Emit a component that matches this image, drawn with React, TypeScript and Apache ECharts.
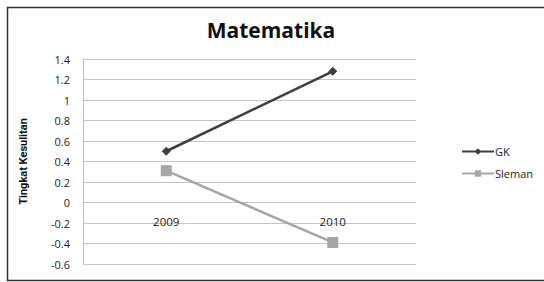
import React, { useEffect, useRef } from "react";
import * as echarts from "echarts";

const categories = ["2009", "2010"];
const gkValues = [0.5, 1.28];
const slemanValues = [0.31, -0.39];
const yMin = -0.6;
const yMax = 1.4;
const yStep = 0.2;

export default function App() {
  const ref = useRef<HTMLDivElement>(null);
  useEffect(() => {
    document.body.style.margin = "0";
    const chart = echarts.init(ref.current!, null, { renderer: "svg" });
    const gridTop = 59;
    const gridBottom = 18;
    const plotH = 282 - gridTop - gridBottom;
    const zeroOffset = -plotH * (0 - yMin) / (yMax - yMin);
    chart.setOption({
      animation: false,
      backgroundColor: "#ffffff",
      textStyle: { fontFamily: "Open Sans" },
      graphic: [
        {
          type: "rect",
          shape: { x: 7.5, y: 7.5, width: 545, height: 273 },
          style: { fill: "none", stroke: "#333", lineWidth: 1.5 },
          silent: true,
          z: -1,
        },
      ],
      title: {
        text: "Matematika",
        left: 266,
        top: 14,
        textAlign: "center",
        textStyle: { fontSize: 21, fontWeight: "bold", color: "#111", fontFamily: "Open Sans" },
      },
      legend: {
        orient: "vertical",
        left: 456,
        top: 141,
        itemWidth: 32,
        itemHeight: 8,
        itemGap: 11,
        textStyle: { fontSize: 11, color: "#222", padding: [0, 0, 0, -4] },
        data: ["GK", "Sleman"],
      },
      grid: { left: 83, right: 128, top: gridTop, bottom: gridBottom, outerBoundsMode: "none" },
      xAxis: {
        type: "category",
        data: categories,
        boundaryGap: true,
        offset: zeroOffset,
        axisLine: { onZero: false, lineStyle: { color: "#c4c4c4" } },
        axisTick: { show: false },
        axisLabel: { fontSize: 11.5, color: "#222", margin: 13 },
      },
      yAxis: {
        type: "value",
        min: yMin,
        max: yMax,
        interval: yStep,
        name: "Tingkat Kesulitan",
        nameLocation: "middle",
        nameRotate: 90,
        nameGap: 54,
        nameTextStyle: { fontSize: 11, fontWeight: "bold", color: "#111", fontFamily: "Roboto" },
        axisLine: { show: true, lineStyle: { color: "#bbb" } },
        axisTick: { show: false },
        splitLine: { lineStyle: { color: "#c4c4c4" } },
        axisLabel: {
          fontSize: 11,
          color: "#222",
          margin: 13,
          formatter: (v: number) => String(Math.round(v * 10) / 10),
        },
      },
      series: [
        {
          name: "GK",
          type: "line",
          data: gkValues,
          symbol: "diamond",
          symbolSize: 9,
          lineStyle: { color: "#3f3f3f", width: 2.5 },
          itemStyle: { color: "#3f3f3f" },
        },
        {
          name: "Sleman",
          type: "line",
          data: slemanValues,
          symbol: "rect",
          symbolSize: 11,
          lineStyle: { color: "#a6a6a6", width: 2.5 },
          itemStyle: { color: "#a6a6a6" },
        },
      ],
    });
    return () => chart.dispose();
  }, []);
  return <div ref={ref} style={{ width: 544, height: 282 }} />;
}
